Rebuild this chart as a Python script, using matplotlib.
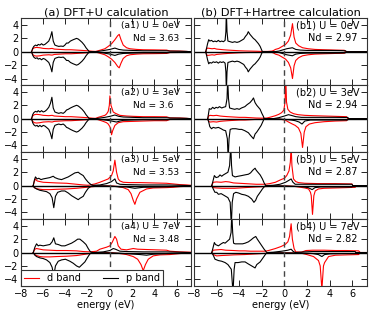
import matplotlib
matplotlib.use("Agg")
import matplotlib.pyplot as plt
import numpy as np

plt.rcParams['font.family'] = ['DejaVu Sans']

titles = ["(a) DFT+U calculation", "(b) DFT+Hartree calculation"]
u_labels = ["0eV", "3eV", "5eV", "7eV"]
nd_a = ["3.63", "3.6", "3.53", "3.48"]
nd_b = ["2.97", "2.94", "2.87", "2.82"]
xticks = [-8, -6, -4, -2, 0, 2, 4, 6]
yticks = [-4, -2, 0, 2, 4]
legend_labels = ["d band", "p band"]

# ---------------- DFT+U column ----------------
a1_p_up = [(-7.05,0),(-6.95,0.5),(-6.85,0.8),(-6.7,1.0),(-6.55,0.9),(-6.45,1.1),(-6.3,1.0),(-6.15,1.2),(-6.0,1.0),(-5.85,1.1),(-5.7,1.3),(-5.5,1.6),(-5.35,2.2),(-5.22,3.0),(-5.1,1.6),(-4.95,1.0),(-4.8,0.9),(-4.6,0.8),(-4.4,0.85),(-4.2,0.8),(-4.05,1.0),(-3.9,1.3),(-3.75,1.3),(-3.55,1.6),(-3.3,1.8),(-3.0,2.0),(-2.85,1.9),(-2.7,1.7),(-2.5,1.4),(-2.3,1.0),(-2.15,0.6),(-2.0,0.3),(-1.85,0.0),(-1.3,0.0),(-0.9,0.1),(-0.5,0.2),(0.0,0.35),(0.45,0.55),(0.8,0.35),(1.2,0.25),(2.0,0.2),(3.0,0.15),(4.0,0.15),(5.1,0.15),(5.4,0.1),(6.3,0.08),(6.9,0.05),(7.3,0.0)]
a1_p_dn = [(-7.05,0),(-6.95,-0.5),(-6.85,-0.8),(-6.7,-1.0),(-6.55,-0.9),(-6.45,-1.1),(-6.3,-1.0),(-6.15,-1.2),(-6.0,-1.0),(-5.85,-1.1),(-5.7,-1.3),(-5.5,-1.6),(-5.35,-2.2),(-5.22,-3.0),(-5.1,-1.6),(-4.95,-1.0),(-4.8,-0.9),(-4.6,-0.8),(-4.4,-0.85),(-4.2,-0.8),(-4.05,-1.0),(-3.9,-1.3),(-3.75,-1.3),(-3.55,-1.6),(-3.3,-1.8),(-3.0,-2.0),(-2.85,-1.9),(-2.7,-1.7),(-2.5,-1.4),(-2.3,-1.0),(-2.15,-0.6),(-2.0,-0.3),(-1.85,0.0),(-1.3,0.0),(-0.9,-0.1),(-0.5,-0.2),(0.0,-0.35),(0.45,-0.55),(0.8,-0.35),(1.2,-0.25),(2.0,-0.2),(3.0,-0.15),(4.0,-0.15),(5.1,-0.15),(5.4,-0.1),(6.3,-0.08),(6.9,-0.05),(7.3,0.0)]
a1_d_up = [(-7.05,0),(-6.95,0.4),(-6.8,0.6),(-6.6,0.65),(-6.3,0.6),(-6.0,0.5),(-5.5,0.45),(-5.2,0.5),(-5.0,0.4),(-4.5,0.35),(-4.0,0.3),(-3.5,0.3),(-3.0,0.25),(-2.5,0.2),(-2.0,0.15),(-1.6,0.08),(-1.3,0.05),(-1.05,0.15),(-0.75,0.3),(-0.45,0.45),(-0.15,0.8),(0.15,1.2),(0.45,1.8),(0.7,2.4),(0.84,2.6),(1.0,1.8),(1.2,1.0),(1.5,0.6),(1.8,0.45),(2.4,0.35),(3.0,0.3),(4.0,0.28),(5.1,0.25),(5.4,0.12),(6.3,0.1),(6.9,0.05),(7.3,0.0)]
a1_d_dn = [(-7.05,0),(-6.95,-0.4),(-6.8,-0.6),(-6.6,-0.65),(-6.3,-0.6),(-6.0,-0.5),(-5.5,-0.45),(-5.2,-0.5),(-5.0,-0.4),(-4.5,-0.35),(-4.0,-0.3),(-3.5,-0.3),(-3.0,-0.25),(-2.5,-0.2),(-2.0,-0.15),(-1.6,-0.08),(-1.3,-0.05),(-1.05,-0.15),(-0.75,-0.3),(-0.45,-0.45),(-0.15,-0.75),(0.15,-1.1),(0.45,-1.6),(0.7,-2.2),(0.84,-2.4),(1.0,-1.7),(1.2,-1.0),(1.5,-0.6),(1.8,-0.45),(2.4,-0.35),(3.0,-0.3),(4.0,-0.28),(5.1,-0.25),(5.4,-0.12),(6.3,-0.1),(6.9,-0.05),(7.3,0.0)]

a2_p_up = [(-7.05,0),(-6.95,0.6),(-6.85,0.9),(-6.7,1.1),(-6.55,1.0),(-6.45,1.2),(-6.3,1.0),(-6.15,1.2),(-6.0,1.0),(-5.85,1.1),(-5.7,1.3),(-5.5,1.7),(-5.35,2.3),(-5.22,3.2),(-5.1,1.6),(-4.95,1.0),(-4.8,0.9),(-4.6,0.8),(-4.4,0.9),(-4.2,0.8),(-4.05,1.0),(-3.9,1.3),(-3.75,1.4),(-3.55,1.6),(-3.3,1.8),(-3.0,2.0),(-2.85,1.9),(-2.7,1.7),(-2.5,1.4),(-2.3,1.0),(-2.15,0.6),(-2.0,0.3),(-1.85,0.0),(-1.3,0.0),(-0.9,0.1),(-0.45,0.2),(0.0,0.35),(0.45,0.55),(0.8,0.35),(1.2,0.25),(2.0,0.2),(3.0,0.15),(4.0,0.15),(5.1,0.15),(5.4,0.1),(6.3,0.08),(6.9,0.05),(7.3,0.0)]
a2_p_dn = [(-7.05,0),(-6.95,-0.6),(-6.85,-0.9),(-6.7,-1.1),(-6.55,-1.0),(-6.45,-1.2),(-6.3,-1.0),(-6.15,-1.2),(-6.0,-1.0),(-5.85,-1.1),(-5.7,-1.3),(-5.5,-1.6),(-5.35,-2.2),(-5.22,-3.0),(-5.1,-1.6),(-4.95,-1.0),(-4.8,-0.9),(-4.6,-0.8),(-4.4,-0.9),(-4.2,-0.8),(-4.05,-1.0),(-3.9,-1.3),(-3.75,-1.4),(-3.55,-1.6),(-3.3,-1.8),(-3.0,-2.0),(-2.85,-1.9),(-2.7,-1.7),(-2.5,-1.4),(-2.3,-1.0),(-2.15,-0.6),(-2.0,-0.3),(-1.85,0.0),(-1.3,0.0),(-0.9,-0.1),(-0.45,-0.2),(0.0,-0.3),(0.6,-0.5),(0.9,-0.35),(1.2,-0.25),(2.0,-0.2),(3.0,-0.15),(4.0,-0.15),(5.1,-0.15),(5.4,-0.1),(6.3,-0.08),(6.9,-0.05),(7.3,0.0)]
a2_d_up = [(-7.05,0),(-6.95,0.4),(-6.8,0.6),(-6.6,0.65),(-6.3,0.6),(-6.0,0.5),(-5.5,0.45),(-5.2,0.5),(-5.0,0.4),(-4.5,0.35),(-4.0,0.3),(-3.5,0.3),(-3.0,0.25),(-2.5,0.2),(-2.0,0.15),(-1.6,0.08),(-1.3,0.05),(-1.05,0.2),(-0.75,0.35),(-0.45,0.5),(-0.3,0.7),(-0.15,1.1),(-0.05,2.0),(0.0,3.4),(0.1,2.0),(0.3,1.0),(0.5,0.8),(0.9,0.5),(1.5,0.4),(2.1,0.35),(3.0,0.3),(4.0,0.3),(5.1,0.28),(5.4,0.12),(6.3,0.1),(6.9,0.05),(7.3,0.0)]
a2_d_dn = [(-7.05,0),(-6.95,-0.4),(-6.8,-0.6),(-6.6,-0.65),(-6.3,-0.6),(-6.0,-0.5),(-5.5,-0.45),(-5.2,-0.5),(-5.0,-0.4),(-4.5,-0.35),(-4.0,-0.3),(-3.5,-0.3),(-3.0,-0.25),(-2.5,-0.2),(-2.0,-0.15),(-1.6,-0.08),(-1.3,-0.05),(-1.05,-0.15),(-0.6,-0.4),(-0.3,-0.6),(-0.15,-0.8),(0.0,-1.2),(0.1,-1.8),(0.15,-2.4),(0.25,-1.8),(0.45,-1.0),(0.75,-0.6),(1.2,-0.45),(2.1,-0.4),(3.0,-0.35),(4.0,-0.3),(5.1,-0.3),(5.4,-0.12),(6.3,-0.1),(6.9,-0.05),(7.3,0.0)]

a3_p_up = [(-6.9,0),(-6.8,0.8),(-6.7,1.3),(-6.55,1.0),(-6.4,1.1),(-6.2,0.9),(-6.0,1.0),(-5.7,1.1),(-5.4,1.2),(-5.1,1.4),(-4.95,1.2),(-4.65,1.0),(-4.35,0.9),(-4.05,1.1),(-3.75,1.3),(-3.45,1.6),(-3.15,1.9),(-2.85,2.0),(-2.7,1.8),(-2.4,1.5),(-2.2,1.0),(-1.95,0.5),(-1.7,0.15),(-1.5,0.05),(-0.9,0.1),(-0.3,0.3),(0.15,0.6),(0.45,1.0),(0.6,0.4),(0.9,0.2),(1.5,0.15),(3.0,0.1),(5.1,0.1),(6.3,0.05),(7.3,0.0)]
a3_p_dn = [(-6.9,0),(-6.8,-0.3),(-6.6,-0.5),(-6.3,-0.7),(-6.0,-0.8),(-5.7,-0.9),(-5.4,-1.2),(-5.2,-1.8),(-5.05,-3.3),(-4.9,-1.6),(-4.7,-1.0),(-4.35,-0.8),(-4.05,-0.8),(-3.75,-1.1),(-3.45,-1.5),(-3.15,-1.8),(-2.85,-2.1),(-2.7,-1.9),(-2.4,-1.6),(-2.2,-1.0),(-1.95,-0.4),(-1.7,-0.1),(-1.5,0.0),(-0.3,-0.05),(0.3,-0.1),(0.9,-0.2),(1.5,-0.2),(2.25,-0.4),(3.0,-0.25),(4.5,-0.2),(5.4,-0.15),(6.3,-0.1),(7.3,0.0)]
a3_d_up = [(-6.9,0),(-6.8,0.6),(-6.7,1.0),(-6.55,0.7),(-6.3,0.6),(-6.0,0.5),(-5.4,0.45),(-4.8,0.4),(-3.9,0.35),(-3.0,0.2),(-2.4,0.1),(-1.95,0.05),(-1.8,0.1),(-1.35,0.25),(-0.9,0.5),(-0.45,0.8),(-0.15,1.0),(0.15,1.5),(0.3,2.2),(0.45,3.8),(0.6,2.0),(0.75,1.0),(0.9,0.7),(1.2,0.5),(1.8,0.45),(2.7,0.45),(3.9,0.4),(5.1,0.35),(5.7,0.25),(6.3,0.15),(6.9,0.1),(7.3,0.05)]
a3_d_dn = [(-6.9,0),(-6.8,-0.3),(-6.6,-0.45),(-6.3,-0.55),(-6.0,-0.6),(-5.4,-0.6),(-4.8,-0.55),(-3.9,-0.5),(-3.0,-0.4),(-2.4,-0.3),(-1.8,-0.2),(-1.2,-0.1),(-0.6,-0.05),(0.0,-0.05),(0.6,-0.1),(1.2,-0.3),(1.65,-0.6),(1.9,-1.2),(2.1,-2.2),(2.25,-2.8),(2.4,-2.0),(2.7,-1.0),(3.3,-0.5),(3.9,-0.35),(5.1,-0.3),(5.7,-0.25),(6.3,-0.15),(6.9,-0.1),(7.3,-0.05)]

a4_p_up = [(-6.9,0),(-6.75,0.8),(-6.6,1.3),(-6.45,1.0),(-6.3,1.1),(-6.0,1.0),(-5.7,1.1),(-5.4,1.2),(-5.2,1.6),(-5.05,2.2),(-4.9,1.3),(-4.65,1.2),(-4.35,1.0),(-4.05,1.0),(-3.75,1.2),(-3.45,1.4),(-3.15,1.7),(-2.9,2.0),(-2.7,2.0),(-2.4,1.6),(-2.15,1.2),(-1.95,0.6),(-1.75,0.1),(-1.5,0.0),(-0.6,0.1),(0.0,0.3),(0.3,0.6),(0.5,0.5),(0.9,0.2),(1.5,0.15),(3.0,0.1),(5.1,0.1),(6.3,0.05),(7.3,0.0)]
a4_p_dn = [(-6.9,0),(-6.75,-0.4),(-6.6,-0.6),(-6.3,-0.8),(-6.0,-0.9),(-5.7,-1.1),(-5.4,-1.5),(-5.2,-2.2),(-5.05,-3.5),(-4.9,-2.0),(-4.65,-1.3),(-4.35,-1.1),(-4.0,-1.0),(-3.6,-1.3),(-3.3,-1.6),(-3.0,-2.0),(-2.75,-2.2),(-2.5,-1.8),(-2.25,-1.4),(-2.0,-0.7),(-1.8,-0.2),(-1.6,0.0),(0.0,-0.05),(0.9,-0.1),(1.8,-0.2),(2.7,-0.3),(3.3,-0.4),(3.9,-0.25),(5.1,-0.15),(6.3,-0.1),(7.3,0.0)]
a4_d_up = [(-6.9,0),(-6.75,0.5),(-6.6,0.6),(-6.3,0.5),(-6.0,0.4),(-5.4,0.35),(-4.8,0.3),(-3.9,0.3),(-3.0,0.25),(-2.4,0.15),(-1.8,0.1),(-1.2,0.2),(-0.9,0.5),(-0.3,0.8),(0.0,1.0),(0.2,1.5),(0.45,2.4),(0.6,2.0),(0.75,1.0),(1.0,0.5),(1.5,0.4),(2.1,0.6),(2.5,0.5),(3.3,0.45),(4.2,0.4),(5.1,0.35),(5.4,0.2),(6.3,0.1),(7.3,0.05)]
a4_d_dn = [(-6.9,0),(-6.75,-0.3),(-6.6,-0.45),(-6.3,-0.6),(-6.0,-0.65),(-5.4,-0.65),(-4.8,-0.6),(-3.9,-0.55),(-3.0,-0.45),(-2.4,-0.3),(-1.8,-0.15),(-1.2,-0.05),(0.0,0.0),(0.9,-0.15),(1.5,-0.3),(2.1,-0.6),(2.5,-1.0),(2.8,-1.8),(3.0,-2.7),(3.2,-1.8),(3.45,-1.0),(3.9,-0.5),(4.5,-0.35),(5.4,-0.3),(6.3,-0.15),(7.3,-0.05)]

# ---------------- DFT+Hartree column ----------------
b1_p_up = [(-6.96,0),(-6.88,0.6),(-6.8,1.2),(-6.7,1.8),(-6.6,1.6),(-6.45,1.7),(-6.3,1.5),(-6.15,1.6),(-6.0,1.5),(-5.85,1.7),(-5.7,1.5),(-5.55,1.6),(-5.4,1.5),(-5.25,1.7),(-5.18,3.0),(-5.14,6.0),(-5.08,3.0),(-5.0,1.6),(-4.8,1.5),(-4.6,1.4),(-4.4,1.5),(-4.2,1.4),(-4.0,1.5),(-3.8,1.7),(-3.6,1.9),(-3.45,2.3),(-3.3,2.6),(-3.2,3.0),(-3.05,2.6),(-2.9,2.3),(-2.75,2.0),(-2.6,1.8),(-2.45,1.5),(-2.3,1.2),(-2.15,0.8),(-2.05,0.4),(-1.95,0.0),(-0.9,0.0),(-0.5,0.1),(-0.2,0.25),(0.2,0.45),(0.7,0.6),(1.0,0.35),(1.4,0.25),(2.0,0.2),(3.0,0.2),(4.0,0.2),(5.0,0.18),(5.4,0.15),(5.5,0.0),(7.3,0.0)]
b1_p_dn = [(-6.96,0),(-6.88,-0.6),(-6.8,-1.2),(-6.7,-1.8),(-6.6,-1.6),(-6.45,-1.7),(-6.3,-1.5),(-6.15,-1.6),(-6.0,-1.5),(-5.85,-1.7),(-5.7,-1.5),(-5.55,-1.6),(-5.4,-1.5),(-5.25,-1.7),(-5.18,-3.0),(-5.14,-6.0),(-5.08,-3.0),(-5.0,-1.6),(-4.8,-1.5),(-4.6,-1.4),(-4.4,-1.5),(-4.2,-1.4),(-4.0,-1.5),(-3.8,-1.7),(-3.6,-1.9),(-3.45,-2.3),(-3.3,-2.6),(-3.2,-3.0),(-3.05,-2.6),(-2.9,-2.3),(-2.75,-2.0),(-2.6,-1.8),(-2.45,-1.5),(-2.3,-1.2),(-2.15,-0.8),(-2.05,-0.4),(-1.95,0.0),(-0.9,0.0),(-0.5,-0.1),(-0.2,-0.25),(0.2,-0.45),(0.7,-0.6),(1.0,-0.35),(1.4,-0.25),(2.0,-0.2),(3.0,-0.2),(4.0,-0.2),(5.0,-0.18),(5.4,-0.15),(5.5,0.0),(7.3,0.0)]
b1_d_up = [(-6.96,0),(-6.9,0.4),(-6.8,0.55),(-6.6,0.5),(-6.4,0.45),(-6.2,0.5),(-6.0,0.4),(-5.7,0.35),(-5.4,0.3),(-5.0,0.25),(-4.5,0.2),(-4.0,0.15),(-3.5,0.12),(-3.0,0.1),(-2.5,0.08),(-2.0,0.05),(-1.5,0.05),(-1.1,0.1),(-0.95,0.2),(-0.8,0.35),(-0.5,0.5),(-0.2,0.8),(0.1,1.1),(0.35,1.6),(0.55,2.5),(0.71,4.2),(0.85,2.2),(1.0,1.3),(1.25,0.9),(1.6,0.6),(2.1,0.45),(2.7,0.35),(3.5,0.3),(4.5,0.25),(5.3,0.22),(5.4,0.0),(7.3,0.0)]
b1_d_dn = [(-6.96,0),(-6.9,-0.4),(-6.8,-0.55),(-6.6,-0.5),(-6.4,-0.45),(-6.2,-0.5),(-6.0,-0.4),(-5.7,-0.35),(-5.4,-0.3),(-5.0,-0.25),(-4.5,-0.2),(-4.0,-0.15),(-3.5,-0.12),(-3.0,-0.1),(-2.5,-0.08),(-2.0,-0.05),(-1.5,-0.05),(-1.1,-0.1),(-0.95,-0.2),(-0.8,-0.35),(-0.5,-0.5),(-0.2,-0.8),(0.1,-1.1),(0.35,-1.6),(0.55,-2.4),(0.71,-4.0),(0.85,-2.1),(1.0,-1.3),(1.25,-0.9),(1.6,-0.6),(2.1,-0.45),(2.7,-0.35),(3.5,-0.3),(4.5,-0.25),(5.3,-0.22),(5.4,0.0),(7.3,0.0)]

b2_p_up = [(-6.79,0),(-6.73,0.6),(-6.65,1.5),(-6.5,1.4),(-6.35,1.7),(-6.2,1.5),(-6.05,1.7),(-5.9,1.6),(-5.75,1.8),(-5.55,1.6),(-5.4,1.7),(-5.2,1.8),(-5.08,3.0),(-5.02,6.0),(-4.95,3.0),(-4.85,1.6),(-4.65,1.5),(-4.4,1.4),(-4.2,1.5),(-4.0,1.4),(-3.8,1.6),(-3.5,1.8),(-3.3,2.1),(-3.05,2.4),(-2.85,2.8),(-2.74,3.1),(-2.6,2.4),(-2.45,2.0),(-2.3,1.7),(-2.15,1.4),(-2.0,0.8),(-1.85,0.3),(-1.8,0.0),(-1.0,0.0),(-0.5,0.15),(0.0,0.4),(0.36,0.6),(0.7,0.45),(1.0,0.3),(1.5,0.2),(3.0,0.2),(4.5,0.2),(5.6,0.18),(5.7,0.0),(7.3,0.0)]
b2_p_dn = [(-6.79,0),(-6.7,-0.5),(-6.6,-1.2),(-6.45,-1.5),(-6.3,-1.3),(-6.1,-1.4),(-5.84,-1.3),(-5.6,-1.5),(-5.4,-1.7),(-5.2,-1.8),(-5.05,-3.0),(-4.98,-6.0),(-4.9,-3.0),(-4.8,-1.6),(-4.6,-1.5),(-4.3,-1.5),(-4.0,-1.6),(-3.78,-1.6),(-3.5,-1.8),(-3.19,-2.1),(-3.0,-2.5),(-2.74,-3.0),(-2.6,-2.3),(-2.45,-2.0),(-2.25,-1.5),(-2.06,-1.0),(-1.9,-0.4),(-1.8,0.0),(-1.0,0.0),(0.0,-0.1),(0.6,-0.2),(0.95,-0.3),(1.3,-0.5),(1.55,-0.8),(1.8,-0.35),(2.3,-0.2),(3.5,-0.2),(5.0,-0.2),(5.6,-0.18),(5.7,0.0),(7.3,0.0)]
b2_d_up = [(-6.79,0),(-6.7,0.4),(-6.6,0.5),(-6.3,0.45),(-6.0,0.5),(-5.7,0.4),(-5.4,0.35),(-5.0,0.3),(-4.5,0.25),(-4.0,0.2),(-3.5,0.2),(-3.0,0.15),(-2.5,0.1),(-2.0,0.08),(-1.56,0.1),(-1.2,0.25),(-0.8,0.45),(-0.5,0.65),(-0.25,0.9),(-0.05,1.3),(0.05,2.5),(0.12,6.0),(0.18,2.5),(0.3,1.4),(0.5,1.0),(0.8,0.75),(1.2,0.6),(1.8,0.5),(2.5,0.45),(3.5,0.4),(4.5,0.35),(5.5,0.3),(5.6,0.0),(7.3,0.0)]
b2_d_dn = [(-6.79,0),(-6.7,-0.4),(-6.6,-0.5),(-6.3,-0.45),(-6.0,-0.5),(-5.7,-0.4),(-5.4,-0.35),(-5.0,-0.3),(-4.5,-0.25),(-4.0,-0.2),(-3.5,-0.2),(-3.0,-0.15),(-2.5,-0.1),(-2.0,-0.08),(-1.5,-0.05),(-0.5,-0.05),(0.06,-0.2),(0.36,-0.5),(0.7,-0.8),(0.95,-1.0),(1.24,-1.4),(1.45,-2.2),(1.6,-4.3),(1.75,-2.0),(1.9,-1.2),(2.2,-0.8),(2.7,-0.6),(3.5,-0.45),(4.5,-0.35),(5.5,-0.3),(5.6,0.0),(7.3,0.0)]

b3_p_up = [(-6.43,0),(-6.35,0.5),(-6.2,1.5),(-6.05,1.2),(-5.85,1.3),(-5.7,1.6),(-5.55,1.4),(-5.4,1.6),(-5.2,1.8),(-5.0,2.0),(-4.85,3.0),(-4.75,6.0),(-4.68,3.0),(-4.6,1.5),(-4.37,1.3),(-4.1,1.4),(-3.78,1.5),(-3.5,1.6),(-3.19,1.7),(-3.0,1.9),(-2.8,2.3),(-2.6,2.6),(-2.5,2.3),(-2.35,2.0),(-2.15,1.6),(-1.95,1.0),(-1.8,0.4),(-1.65,0.0),(-1.0,0.05),(-0.4,0.2),(0.1,0.5),(0.4,0.8),(0.59,1.0),(0.75,0.5),(0.95,0.2),(1.5,0.2),(3.0,0.2),(4.5,0.2),(5.97,0.2),(6.05,0.0),(7.3,0.0)]
b3_p_dn = [(-6.43,0),(-6.3,-0.5),(-6.15,-1.0),(-5.99,-1.0),(-5.84,-1.3),(-5.6,-1.2),(-5.4,-1.4),(-5.2,-1.6),(-5.0,-1.8),(-4.8,-2.5),(-4.7,-6.0),(-4.62,-2.5),(-4.5,-1.2),(-4.3,-1.0),(-4.07,-1.1),(-3.78,-1.3),(-3.48,-1.4),(-3.19,-1.6),(-2.9,-2.0),(-2.7,-2.5),(-2.55,-2.2),(-2.4,-1.6),(-2.15,-1.0),(-1.95,-0.5),(-1.75,-0.1),(-1.65,0.0),(0.0,-0.05),(1.5,-0.15),(2.1,-0.3),(2.45,-0.6),(2.7,-0.3),(3.2,-0.2),(4.5,-0.2),(5.97,-0.2),(6.05,0.0),(7.3,0.0)]
b3_d_up = [(-6.43,0),(-6.3,0.5),(-6.0,0.55),(-5.6,0.5),(-5.2,0.6),(-4.9,0.55),(-4.5,0.4),(-4.0,0.35),(-3.5,0.3),(-3.0,0.25),(-2.5,0.2),(-2.0,0.2),(-1.7,0.2),(-1.3,0.3),(-0.8,0.5),(-0.3,0.9),(0.0,1.1),(0.2,1.5),(0.4,2.2),(0.52,3.5),(0.59,6.0),(0.66,3.0),(0.8,1.0),(1.0,0.6),(1.24,0.45),(1.8,0.35),(3.0,0.3),(4.5,0.3),(5.97,0.25),(6.05,0.0),(7.3,0.0)]
b3_d_dn = [(-6.43,0),(-6.3,-0.3),(-6.0,-0.35),(-5.5,-0.4),(-4.4,-0.4),(-3.5,-0.3),(-2.5,-0.2),(-1.8,-0.15),(-1.0,-0.1),(0.06,-0.05),(0.8,-0.1),(1.24,-0.2),(1.8,-0.35),(2.13,-0.5),(2.3,-1.0),(2.37,-1.5),(2.48,-4.3),(2.6,-1.5),(2.72,-0.8),(3.0,-0.5),(3.5,-0.4),(4.5,-0.35),(5.5,-0.3),(6.26,-0.25),(6.3,0.0),(7.3,0.0)]

b4_p_up = [(-6.43,0),(-6.35,0.5),(-6.2,1.5),(-6.1,1.2),(-5.84,1.0),(-5.6,1.3),(-5.4,1.5),(-5.25,1.4),(-5.05,1.7),(-4.85,2.0),(-4.72,3.0),(-4.66,6.0),(-4.58,3.0),(-4.5,1.4),(-4.37,1.3),(-4.0,1.3),(-3.7,1.3),(-3.48,1.4),(-3.19,1.6),(-2.95,1.9),(-2.74,2.2),(-2.54,2.4),(-2.4,2.0),(-2.2,1.5),(-2.0,1.0),(-1.8,0.5),(-1.56,0.0),(-1.0,0.05),(-0.23,0.2),(0.3,0.35),(0.59,0.5),(0.75,0.2),(0.95,0.0),(1.8,0.1),(2.5,0.15),(3.5,0.15),(5.0,0.15),(6.26,0.15),(6.3,0.0),(7.3,0.0)]
b4_p_dn = [(-6.43,0),(-6.3,-0.4),(-6.14,-1.0),(-5.84,-1.2),(-5.55,-1.3),(-5.25,-1.5),(-5.0,-1.8),(-4.7,-2.5),(-4.55,-6.0),(-4.45,-2.5),(-4.37,-1.5),(-4.1,-1.5),(-3.78,-1.4),(-3.48,-1.4),(-3.2,-1.7),(-2.9,-2.0),(-2.6,-2.3),(-2.45,-1.8),(-2.15,-1.4),(-1.9,-0.8),(-1.65,-0.2),(-1.5,0.0),(0.0,-0.05),(1.8,-0.1),(2.5,-0.15),(3.0,-0.3),(3.31,-0.6),(3.55,-0.3),(4.0,-0.2),(5.0,-0.15),(6.26,-0.15),(6.3,0.0),(7.3,0.0)]
b4_d_up = [(-6.43,0),(-6.3,0.35),(-6.0,0.4),(-5.6,0.45),(-5.2,0.35),(-4.5,0.3),(-4.0,0.25),(-3.5,0.25),(-3.0,0.2),(-2.3,0.2),(-1.7,0.2),(-1.41,0.3),(-0.8,0.6),(-0.3,0.9),(0.06,1.2),(0.3,1.6),(0.45,2.4),(0.59,4.3),(0.7,2.0),(0.85,0.6),(1.0,0.1),(1.5,0.05),(1.9,0.3),(2.5,0.35),(3.5,0.35),(4.5,0.3),(5.5,0.3),(6.56,0.25),(6.7,0.0),(7.3,0.0)]
b4_d_dn = [(-6.43,0),(-6.3,-0.3),(-6.0,-0.5),(-5.6,-0.45),(-5.0,-0.4),(-4.5,-0.35),(-3.5,-0.3),(-2.5,-0.2),(-1.5,-0.1),(-0.5,-0.05),(0.5,-0.05),(1.5,-0.1),(1.98,-0.3),(2.57,-0.6),(3.01,-1.2),(3.16,-2.0),(3.31,-5.5),(3.45,-2.0),(3.55,-1.5),(3.9,-0.6),(4.5,-0.4),(5.5,-0.35),(6.56,-0.3),(6.7,0.0),(7.3,0.0)]

col_a = [(a1_d_up, a1_d_dn, a1_p_up, a1_p_dn), (a2_d_up, a2_d_dn, a2_p_up, a2_p_dn),
         (a3_d_up, a3_d_dn, a3_p_up, a3_p_dn), (a4_d_up, a4_d_dn, a4_p_up, a4_p_dn)]
col_b = [(b1_d_up, b1_d_dn, b1_p_up, b1_p_dn), (b2_d_up, b2_d_dn, b2_p_up, b2_p_dn),
         (b3_d_up, b3_d_dn, b3_p_up, b3_p_dn), (b4_d_up, b4_d_dn, b4_p_up, b4_p_dn)]

W, H = 374, 317
fig = plt.figure(figsize=(W / 100, H / 100), dpi=100)
fig.patch.set_facecolor('white')

top_px, bot_px = 18.3, 286.0
ph = (bot_px - top_px) / 4
cols = [(21, 191), (194, 367)]
tags = ['a', 'b']
nds = [nd_a, nd_b]
datasets = [col_a, col_b]

for c in range(2):
    x0, x1 = cols[c]
    for r in range(4):
        y_top = top_px + r * ph
        ax = fig.add_axes([x0 / W, 1 - (y_top + ph) / H, (x1 - x0) / W, ph / H])
        d_up, d_dn, p_up, p_dn = datasets[c][r]
        for curve in (d_up, d_dn):
            arr = np.array(curve)
            ax.plot(arr[:, 0], arr[:, 1], color='red', lw=0.8)
        for curve in (p_up, p_dn):
            arr = np.array(curve)
            ax.plot(arr[:, 0], arr[:, 1], color='black', lw=0.8)
        ax.axhline(0, color='black', lw=1.0)
        ax.axvline(0, color='#444444', lw=1.0, ls=(0, (4, 3)))
        ax.set_xlim(-8, 7.3)
        ax.set_ylim(-5, 5)
        ax.set_xticks(xticks)
        ax.set_yticks(yticks)
        ax.tick_params(direction='in', top=True, right=True, length=4, width=0.6,
                       labelsize=7, pad=2)
        for s in ax.spines.values():
            s.set_linewidth(0.8)
            s.set_color('#333333')
        ax.set_yticklabels([str(v).replace('-', '\u2212') for v in yticks] if c == 0 else [])
        if r < 3:
            ax.set_xticklabels([])
        else:
            ax.set_xticklabels([str(v).replace('-', '\u2212') for v in xticks])
            ax.set_xlabel('energy (eV)', fontsize=7, labelpad=1)
        fs = 6.6 if c == 0 else 7.0
        ax.text(1.0, 3.9, f"({tags[c]}{r+1}) U = {u_labels[r]}", fontsize=fs,
                ha='left', va='center')
        ax.text(2.1, 2.0, f"Nd = {nds[c][r]}", fontsize=fs, ha='left', va='center')
        if r == 0:
            ax.set_title(titles[c], fontsize=8.2, pad=2)
        if c == 0 and r == 3:
            leg = ax.legend(ax.lines[0:1] + ax.lines[2:3], legend_labels, ncol=2,
                            loc='lower left', bbox_to_anchor=(0, 0), borderaxespad=0,
                            fontsize=7, fancybox=False, framealpha=1,
                            edgecolor='#333333', handlelength=1.6, columnspacing=2.2,
                            borderpad=0.3, handletextpad=0.8)
            leg.get_frame().set_linewidth(0.8)
            leg.set_zorder(5)

fig.savefig('out.png', dpi=100, facecolor='white')
